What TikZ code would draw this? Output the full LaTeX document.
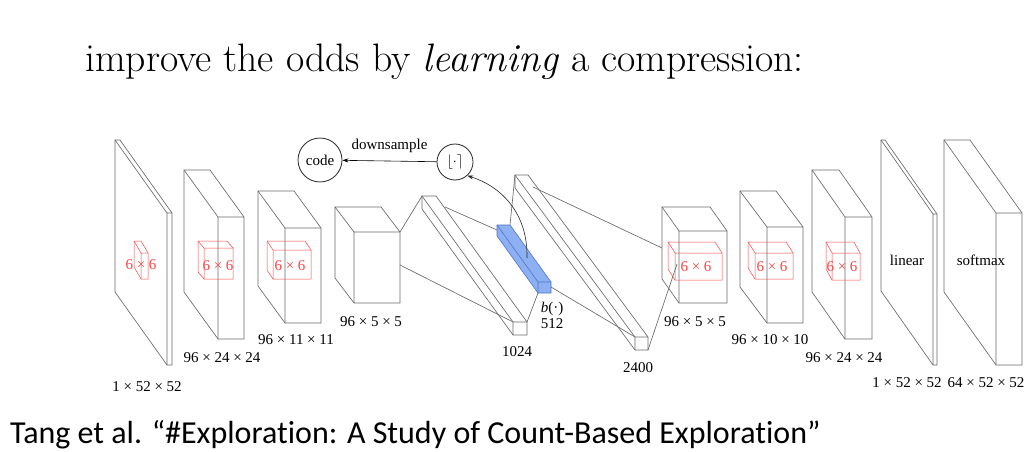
\documentclass[tikz,border=0pt]{standalone}
\usepackage{fontspec}
\usetikzlibrary{arrows.meta}
\newfontfamily\tnr{Liberation Serif}
\newfontfamily\calib[Ligatures=NoCommon]{Carlito}
\newcommand\prism[8]{%
  \coordinate (#1-ftl) at (#2,#3);
  \coordinate (#1-ftr) at (#4,#3);
  \coordinate (#1-fbr) at (#4,#5);
  \coordinate (#1-fbl) at (#2,#5);
  \coordinate (#1-btl) at (#2-#6,#3-#7);
  \coordinate (#1-btr) at (#4-#6,#3-#7);
  \coordinate (#1-bbl) at (#2-#6,#5-#7);
  \path[#8] (#1-bbl) -- (#1-btl) -- (#1-btr) -- (#1-ftr) -- (#1-fbr) -- (#1-fbl) -- cycle;
  \path[#8, fill=none] (#1-btl) -- (#1-ftl) -- (#1-fbl) (#1-ftl) -- (#1-ftr);
}
\definecolor{lgray}{RGB}{105,105,105}
\definecolor{kred}{RGB}{250,70,70}
\definecolor{bfill}{RGB}{140,176,242}
\definecolor{bedge}{RGB}{80,115,205}
\begin{document}
\begin{tikzpicture}[x=1pt,y=-1pt,
  layer/.style={draw=lgray, fill=white, line width=0.65pt},
  kernel/.style={draw=kred, line width=0.5pt},
  bluebox/.style={draw=bedge, fill=bfill, line width=0.6pt},
  conn/.style={draw=lgray, line width=0.65pt},
  lbl/.style={font=\tnr\fontsize{15}{17}\selectfont, inner sep=0pt},
  klbl/.style={font=\tnr\fontsize{15}{17}\selectfont, text=kred, inner sep=0pt},
  circ/.style={draw=black!85, circle, line width=0.8pt, font=\tnr\fontsize{15}{17}\selectfont, inner sep=0pt}]
\useasboundingbox (0,0) rectangle (1034,452);
\fill[white] (0,0) rectangle (1034,452);

% title and citation
\node[anchor=base west, inner sep=0pt, font=\fontsize{39.7}{44}\selectfont] (title) at (85,72)
  {improve the odds by \textit{learning} a compression:};
\node[anchor=base west, inner sep=0pt, font=\calib\fontsize{32}{36}\selectfont] (cite) at (10,443)
  {Tang et al. “\#Exploration: A Study of Count-Based Exploration”};

% encoder
\prism{L1}{167}{213}{172}{365}{52}{73}{layer}
\prism{K1}{141}{253}{148}{279}{7}{12}{kernel}
\prism{L2}{218}{217}{244}{339}{34}{47}{layer}
\prism{K2}{204}{248}{233}{279}{6}{7}{kernel}
\prism{L3}{285}{228}{321}{323}{27}{37}{layer}
\prism{K3}{273}{250}{311}{279}{6}{9}{kernel}
\prism{L4}{354}{232}{400}{303}{19}{25}{layer}
\prism{L5}{513}{322}{527}{335}{91}{126}{layer}
\prism{B}{538}{282}{551}{293}{41}{57}{bluebox}
\prism{L6}{635}{337}{648}{350}{120}{162}{layer}
% decoder
\prism{L7}{679}{231}{727}{303}{17}{24}{layer}
\prism{K7}{675}{253}{722}{280}{7}{11}{kernel}
\prism{L8}{767}{227}{803}{323}{27}{36}{layer}
\prism{K8}{755}{253}{793}{279}{7}{11}{kernel}
\prism{L9}{845}{217}{872}{339}{33}{47}{layer}
\prism{K9}{832}{253}{860}{280}{6}{11}{kernel}
\prism{L10}{933}{214}{937}{365}{52}{74}{layer}
\prism{L11}{996}{213}{1022}{365}{52}{73}{layer}

% connectors between layers
\coordinate (c4a) at (400,265);
\coordinate (c5a) at (445,207);
\coordinate (cBa) at (497,230);
\coordinate (cBb) at (551,287);
\coordinate (c6a) at (533,187);
\coordinate (c7a) at (662,248);
\coordinate (c7b) at (677,264);
\draw[conn] (L4-ftr) -- (L5-btl);
\draw[conn] (c4a) -- (L5-ftl);
\draw[conn] (c5a) -- (cBa);
\draw[conn] (L5-ftr) -- (B-fbl);
\draw[conn] (B-btr) -- (L6-btl);
\draw[conn] (cBb) -- (L6-ftl);
\draw[conn] (c6a) -- (c7a);
\draw[conn] (L6-fbr) -- (c7b);

% kernel labels
\node[klbl] (k1) at (141,265) {6 × 6};
\node[klbl] (k2) at (218,266) {6 × 6};
\node[klbl] (k3) at (290,266) {6 × 6};
\node[klbl] (k7) at (696,267) {6 × 6};
\node[klbl] (k8) at (772,267) {6 × 6};
\node[klbl] (k9) at (842,267) {6 × 6};
\node[lbl] (lin) at (907,260) {linear};
\node[lbl] (soft) at (981,260) {softmax};

% size labels
\node[lbl] (s1) at (147,387) {1 × 52 × 52};
\node[lbl] (s2) at (222,358) {96 × 24 × 24};
\node[lbl] (s3) at (296,340) {96 × 11 × 11};
\node[lbl] (s4) at (371,322) {96 × 5 × 5};
\node[lbl] (s5) at (517,352) {1024};
\node[lbl] (sb) at (552,309) {\textit{b}(·)};
\node[lbl] (sb2) at (552,324) {512};
\node[lbl] (s6) at (638,368) {2400};
\node[lbl] (s7) at (695,322) {96 × 5 × 5};
\node[lbl] (s8) at (770,340) {96 × 10 × 10};
\node[lbl] (s9) at (844,358) {96 × 24 × 24};
\node[lbl] (s10) at (907,383) {1 × 52 × 52};
\node[lbl] (s11) at (986,383) {64 × 52 × 52};

% code branch
\node[circ, minimum size=44pt] (code) at (320,160) {code};
\node[circ, minimum size=36pt] (rnd) at (455,162) {$\lfloor\cdot\rceil$};
\draw[-{Stealth[length=6pt,width=4pt]}, line width=0.6pt] (rnd) -- (code)
  node[midway, lbl, yshift=15pt] (ds) {downsample};
\coordinate (bmid) at (527,258);
\draw[-{Stealth[length=6pt,width=4pt]}, line width=0.6pt, draw=black!85]
  (bmid) .. controls (528,212) and (500,186) .. (rnd.-48);
\end{tikzpicture}
\end{document}
